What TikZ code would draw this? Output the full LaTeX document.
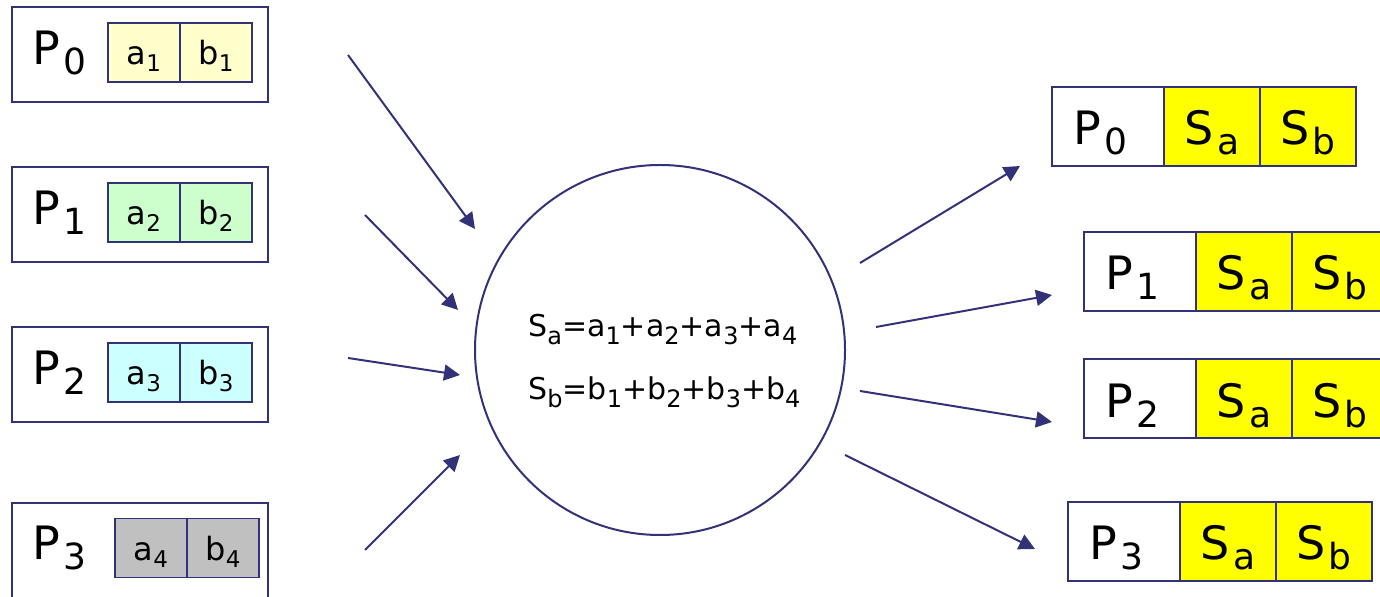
\documentclass[tikz,border=0pt]{standalone}
\usepackage{fontspec}
\setmainfont{DejaVu Sans}
\usetikzlibrary{arrows.meta,positioning}

\definecolor{linecol}{RGB}{50,50,120}
\definecolor{fillA}{RGB}{255,255,204}
\definecolor{fillB}{RGB}{204,255,204}
\definecolor{fillC}{RGB}{204,255,255}
\definecolor{fillD}{RGB}{192,192,192}
\definecolor{sumfill}{RGB}{255,255,0}

% subscripts in three sizes
\newcommand{\bigsub}[2]{#1\kern1.5pt\raisebox{-5pt}{\fontsize{18}{18}\selectfont #2}}
\newcommand{\cellsub}[2]{#1\raisebox{-3.3pt}{\fontsize{11.5}{12}\selectfont #2}}
\newcommand{\sumsub}[2]{#1\raisebox{-4pt}{\fontsize{12}{12}\selectfont #2}}

\begin{document}
\begin{tikzpicture}[x=0.5pt, y=-0.5pt,
  outerbox/.style={draw=linecol, line width=1pt, minimum width=128pt, minimum height=47.5pt, inner sep=0pt},
  cell/.style={draw=linecol, line width=0.8pt, outer sep=0pt, inner sep=0pt, minimum width=36pt, minimum height=29.5pt,
    font=\fontsize{16}{16}\selectfont, text height=14pt, text depth=1.5pt},
  rcell/.style={draw=linecol, line width=1pt, outer sep=0pt, inner sep=0pt, minimum height=39.5pt,
    font=\fontsize{23}{23}\selectfont, text height=20pt, text depth=1.5pt},
  plabel/.style={anchor=base west, inner sep=0pt, font=\fontsize{23}{23}\selectfont},
  hub/.style={circle, draw=linecol, line width=1pt, minimum size=185pt, inner sep=0pt},
  sumtext/.style={anchor=base west, inner sep=0pt, font=\fontsize{15}{15}\selectfont},
  flow/.style={-{Triangle[length=8pt,width=8pt]}, linecol, line width=1pt}]

  \useasboundingbox (0,0) rectangle (1380,597);

  % 1. left: processes with their pairs
  \node[outerbox] (lbox0) at (140,54.5) {};
  \node[plabel] (lp0) at ([xshift=10.5pt,yshift=-5.25pt]lbox0.west) {\bigsub{P}{0}};
  \node[cell, fill=fillA] (a1) at (144,52.5) {\cellsub{a}{1}};
  \node[cell, fill=fillA, right=0pt of a1] (b1) {\cellsub{b}{1}};

  \node[outerbox] (lbox1) at (140,214.5) {};
  \node[plabel] (lp1) at ([xshift=10.5pt,yshift=-5.25pt]lbox1.west) {\bigsub{P}{1}};
  \node[cell, fill=fillB] (a2) at (144,212.5) {\cellsub{a}{2}};
  \node[cell, fill=fillB, right=0pt of a2] (b2) {\cellsub{b}{2}};

  \node[outerbox] (lbox2) at (140,374.5) {};
  \node[plabel] (lp2) at ([xshift=10.5pt,yshift=-5.25pt]lbox2.west) {\bigsub{P}{2}};
  \node[cell, fill=fillC] (a3) at (144,372.5) {\cellsub{a}{3}};
  \node[cell, fill=fillC, right=0pt of a3] (b3) {\cellsub{b}{3}};

  \node[outerbox] (lbox3) at (140,551) {};
  \node[plabel] (lp3) at ([xshift=10.5pt,yshift=-4.5pt]lbox3.west) {\bigsub{P}{3}};
  \node[cell, fill=fillD] (a4) at (151,548) {\cellsub{a}{4}};
  \node[cell, fill=fillD, right=0pt of a4] (b4) {\cellsub{b}{4}};

  % 2. the reduction
  \node[hub] (hub) at (660,350) {};
  \node[sumtext] (suma) at (528,337)
    {\sumsub{S}{a}=\sumsub{a}{1}+\sumsub{a}{2}+\sumsub{a}{3}+\sumsub{a}{4}};
  \node[sumtext] (sumb) at ([yshift=-31.5pt]suma.base west)
    {\sumsub{S}{b}=\sumsub{b}{1}+\sumsub{b}{2}+\sumsub{b}{3}+\sumsub{b}{4}};

  % 3. right: every process gets both sums
  \node[rcell, minimum width=56pt] (rp0) at (1108,126.5) {};
  \node[plabel] (rl0) at ([xshift=10.5pt,yshift=-9.25pt]rp0.west) {\bigsub{P}{0}};
  \node[rcell, minimum width=48pt, fill=sumfill, right=0pt of rp0] (rsa0) {\bigsub{S}{a}};
  \node[rcell, minimum width=48pt, fill=sumfill, right=0pt of rsa0] (rsb0) {\bigsub{S}{b}};

  \node[rcell, minimum width=56pt] (rp1) at (1140,271.5) {};
  \node[plabel] (rl1) at ([xshift=10.5pt,yshift=-9.25pt]rp1.west) {\bigsub{P}{1}};
  \node[rcell, minimum width=48pt, fill=sumfill, right=0pt of rp1] (rsa1) {\bigsub{S}{a}};
  \node[rcell, minimum width=48pt, fill=sumfill, right=0pt of rsa1] (rsb1) {\bigsub{S}{b}};

  \node[rcell, minimum width=56pt] (rp2) at (1140,399) {};
  \node[plabel] (rl2) at ([xshift=10.5pt,yshift=-9.25pt]rp2.west) {\bigsub{P}{2}};
  \node[rcell, minimum width=48pt, fill=sumfill, right=0pt of rp2] (rsa2) {\bigsub{S}{a}};
  \node[rcell, minimum width=48pt, fill=sumfill, right=0pt of rsa2] (rsb2) {\bigsub{S}{b}};

  \node[rcell, minimum width=56pt] (rp3) at (1124,541.5) {};
  \node[plabel] (rl3) at ([xshift=10.5pt,yshift=-9.25pt]rp3.west) {\bigsub{P}{3}};
  \node[rcell, minimum width=48pt, fill=sumfill, right=0pt of rp3] (rsa3) {\bigsub{S}{a}};
  \node[rcell, minimum width=48pt, fill=sumfill, right=0pt of rsa3] (rsb3) {\bigsub{S}{b}};

  % 4. arrow ends
  \coordinate (in0s) at (348,55);   \coordinate (in0e) at (475,229);
  \coordinate (in1s) at (365,215);  \coordinate (in1e) at (458,310);
  \coordinate (in2s) at (348,358);  \coordinate (in2e) at (460,375);
  \coordinate (in3s) at (365,550);  \coordinate (in3e) at (460,455);
  \coordinate (out0s) at (860,263); \coordinate (out0e) at (1020,166);
  \coordinate (out1s) at (876,327); \coordinate (out1e) at (1052,295);
  \coordinate (out2s) at (860,391); \coordinate (out2e) at (1052,422);
  \coordinate (out3s) at (845,455); \coordinate (out3e) at (1035,549);

  % 5. arrows
  \draw[flow] (in0s) -- (in0e);
  \draw[flow] (in1s) -- (in1e);
  \draw[flow] (in2s) -- (in2e);
  \draw[flow] (in3s) -- (in3e);
  \draw[flow] (out0s) -- (out0e);
  \draw[flow] (out1s) -- (out1e);
  \draw[flow] (out2s) -- (out2e);
  \draw[flow] (out3s) -- (out3e);

\end{tikzpicture}
\end{document}
